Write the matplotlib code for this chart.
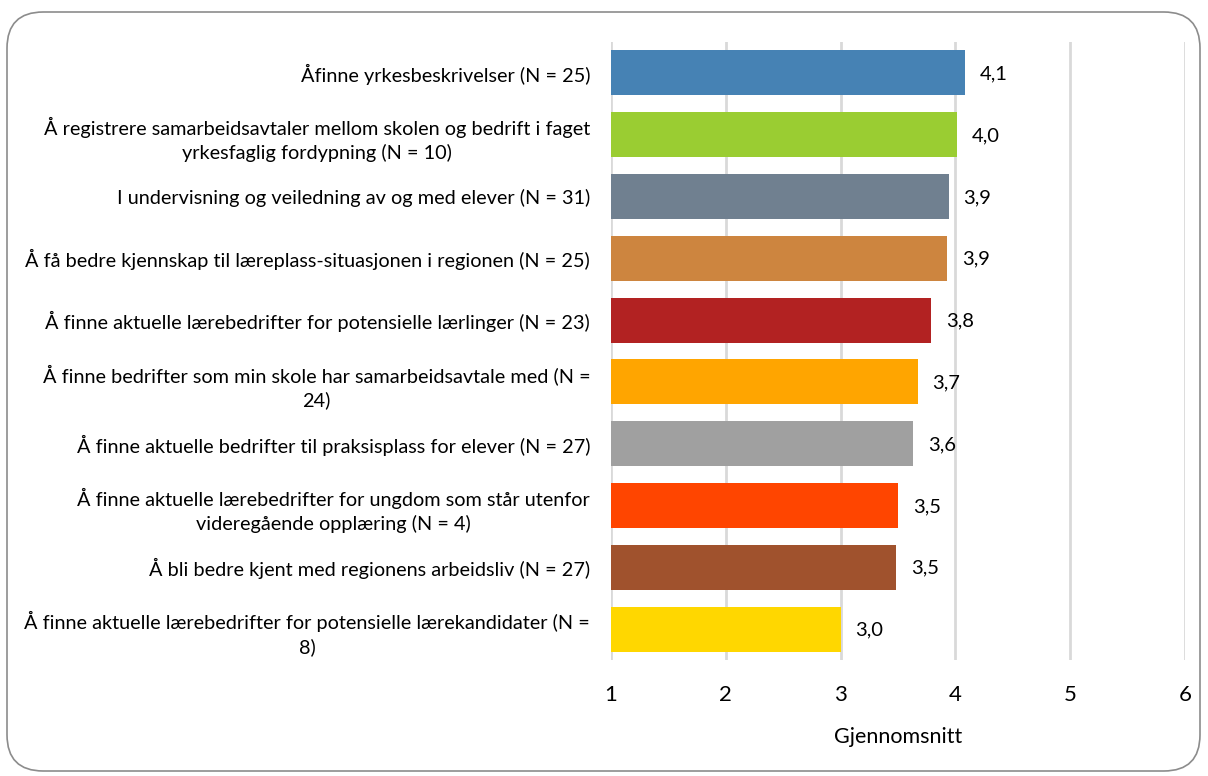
import matplotlib
matplotlib.use("Agg")
import matplotlib.pyplot as plt
from matplotlib.patches import FancyBboxPatch

categories = [
    "Åfinne yrkesbeskrivelser (N = 25)",
    "Å registrere samarbeidsavtaler mellom skolen og bedrift i faget\nyrkesfaglig fordypning (N = 10)",
    "I undervisning og veiledning av og med elever (N = 31)",
    "Å få bedre kjennskap til læreplass-situasjonen i regionen (N = 25)",
    "Å finne aktuelle lærebedrifter for potensielle lærlinger (N = 23)",
    "Å finne bedrifter som min skole har samarbeidsavtale med (N =\n24)",
    "Å finne aktuelle bedrifter til praksisplass for elever (N = 27)",
    "Å finne aktuelle lærebedrifter for ungdom som står utenfor\nvideregående opplæring (N = 4)",
    "Å bli bedre kjent med regionens arbeidsliv (N = 27)",
    "Å finne aktuelle lærebedrifter for potensielle lærekandidater (N =\n8)",
]
values = [4.08, 4.01, 3.94, 3.93, 3.79, 3.67, 3.63, 3.50, 3.48, 3.00]
value_labels = ["4,1", "4,0", "3,9", "3,9", "3,8", "3,7", "3,6", "3,5", "3,5", "3,0"]
colors = ["#4682B4", "#9ACD32", "#708090", "#CD853F", "#B22222",
          "#FFA500", "#A0A0A0", "#FF4500", "#A0522D", "#FFD700"]
xticks = [1, 2, 3, 4, 5, 6]
xlabel = "Gjennomsnitt"

plt.rcParams['font.family'] = ['Lato', 'DejaVu Sans']

W, H = 1208, 776
fig = plt.figure(figsize=(W / 100, H / 100), dpi=100)
ax = fig.add_axes([611 / W, 1 - 660 / H, (1185 - 611) / W, (660 - 42) / H])

n = len(categories)
ypos = list(range(n))
base = 1
ax.barh(ypos, [v - base for v in values], left=base, height=0.73, color=colors, zorder=3)
for y, v, t in zip(ypos, values, value_labels):
    ax.annotate(t, xy=(v, y), xytext=(15, -1), textcoords="offset pixels",
                ha="left", va="center", fontsize=14.5, color="#000000")

ax.set_xlim(1, 6)
ax.set_ylim(n - 0.5, -0.5)
ax.set_xticks(xticks)
ax.set_xticklabels([str(t) for t in xticks], fontsize=16)
ax.set_yticks(ypos)
ax.set_yticklabels(categories, fontsize=14.3)
for lbl in ax.get_yticklabels():
    lbl.set_multialignment("center")
    lbl.set_linespacing(1.4)
ax.tick_params(axis="y", length=0, pad=15)
ax.tick_params(axis="x", length=0, pad=18)
ax.grid(axis="x", color="#d9d9d9", linewidth=2, zorder=0)
for s in ax.spines.values():
    s.set_visible(False)
ax.set_xlabel(xlabel, fontsize=15.5, labelpad=16)

border = FancyBboxPatch((7 / W, 1 - 771 / H), (1200 - 7) / W, (771 - 12) / H,
                        boxstyle="round,pad=0,rounding_size=0.03",
                        transform=fig.transFigure, facecolor="none",
                        edgecolor="#8c8c8c", linewidth=1.2,
                        mutation_aspect=W / H)
fig.patches.append(border)

fig.savefig("out.png", dpi=100)
